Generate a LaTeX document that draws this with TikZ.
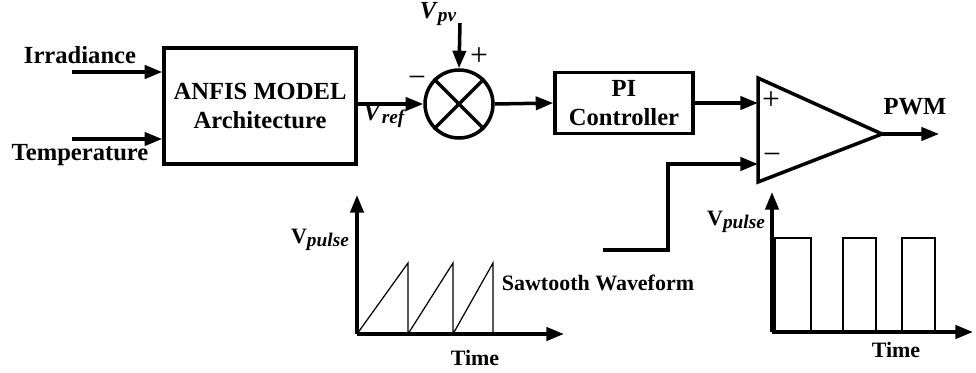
\documentclass[tikz,border=0pt]{standalone}
\usepackage{fontspec}
\setmainfont{Liberation Serif}
\usetikzlibrary{arrows.meta, positioning}
\newcommand{\mainfnt}{\fontsize{14}{16}\selectfont\bfseries}
\newcommand{\minorfnt}{\fontsize{12.5}{14}\selectfont\bfseries}
\newcommand{\lowsub}[1]{\raisebox{-2pt}{\fontsize{11}{12}\selectfont\itshape #1}}

\begin{document}
\begin{tikzpicture}[
    x=0.02cm, y=-0.02cm,
    >={Triangle[length=10pt, width=7.5pt]},
    lbl/.style={font=\mainfnt, inner sep=0pt, align=center},
    minorlbl/.style={font=\minorfnt, inner sep=0pt},
    sign/.style={font=\fontsize{18}{20}\selectfont, inner sep=0pt},
    blockbox/.style={
        draw, line width=2pt, align=center,
        font=\mainfnt, inner sep=0pt
    },
    arr/.style={->, line width=2pt},
    wave/.style={line width=0.7pt},
]
\useasboundingbox (0,0) rectangle (976,372);

%% Inputs
\node[lbl] (irr) at (80,55) {Irradiance};
\node[lbl] (temp) at (80,155) {Temperature};
\coordinate (irrin) at (72,72);
\coordinate (tempin) at (72,139);

%% ANFIS block
\node[blockbox, minimum width=3.84cm, minimum height=2.32cm] (anfis) at (260,106)
    {ANFIS MODEL\\Architecture};

\draw[arr] (irrin) -- (anfis.west |- irrin);
\draw[arr] (tempin) -- (anfis.west |- tempin);

%% Error junction
\node[draw, circle, line width=2pt, minimum size=1.36cm, inner sep=0pt] (sum) at (459,104) {};
\draw[line width=2pt] (sum.north west) -- (sum.south east);
\draw[line width=2pt] (sum.north east) -- (sum.south west);

\draw[arr] (anfis.east |- sum) -- (sum.west);
\node[lbl] (vref) at (384,116) {\textit{V}\lowsub{ref}};
\node[sign] (minus1) at (417,82) {−};

\node[lbl] (vpv) at (438,14) {\textit{V}\lowsub{pv}};
\coordinate (vpvin) at (460,23);
\draw[arr] (vpvin) -- (sum.north);
\node[sign] (plus1) at (479,57) {+};

%% PI controller
\node[blockbox, minimum width=2.76cm, minimum height=1.22cm] (pi) at (624,103)
    {PI\\[1pt]Controller};
\draw[arr] (sum.east) -- (pi.west);

%% Comparator
\coordinate (cmptop) at (758,78);
\coordinate (cmpout) at (882,134);
\coordinate (cmpbot) at (758,182);
\coordinate (cmpplus) at (758,103);
\coordinate (cmpminus) at (758,164);
\draw[line width=2pt, line join=miter] (cmptop) -- (cmpout) -- (cmpbot) -- cycle;
\node[sign] (plus2) at (771,101) {+};
\node[sign] (minus2) at (772,159) {−};

\draw[arr] (pi.east) -- (pi.east -| cmpplus);

\coordinate (sawend) at (603,250);
\draw[arr] (sawend) -- (668,250) |- (cmpminus);

%% Output
\coordinate (pwmend) at (939,134);
\draw[arr] (cmpout) -- (pwmend);
\node[lbl] (pwm) at (915,107) {PWM};

%% Sawtooth plot
\coordinate (sorig) at (357,334);
\coordinate (sytip) at (357,195);
\coordinate (sxtip) at (564,334);
\draw[arr] (sorig) -- (sytip);
\draw[arr] (sorig) -- (sxtip);
\draw[wave] (sorig) -- (408,263) -- (408,334) -- (453,263) -- (453,334)
    -- (493,263) -- (493,334);
\node[minorlbl] (svlbl) at (320,240) {V\lowsub{pulse}};
\node[minorlbl] (sawlbl) at (598,283) {Sawtooth Waveform};
\node[minorlbl] (stime) at (475,358) {Time};

%% Pulse plot
\coordinate (porig) at (772,332);
\coordinate (pytip) at (772,192);
\coordinate (pxtip) at (973,332);
\draw[arr] (porig) -- (pytip);
\draw[arr] (porig) -- (pxtip);
\foreach \a/\b in {775/811, 843/876, 902/935}
    \draw[wave] (\a,332) -- (\a,238) -- (\b,238) -- (\b,332);
\node[minorlbl] (pvlbl) at (736,222) {V\lowsub{pulse}};
\node[minorlbl] (ptime) at (896,350) {Time};

\end{tikzpicture}
\end{document}
